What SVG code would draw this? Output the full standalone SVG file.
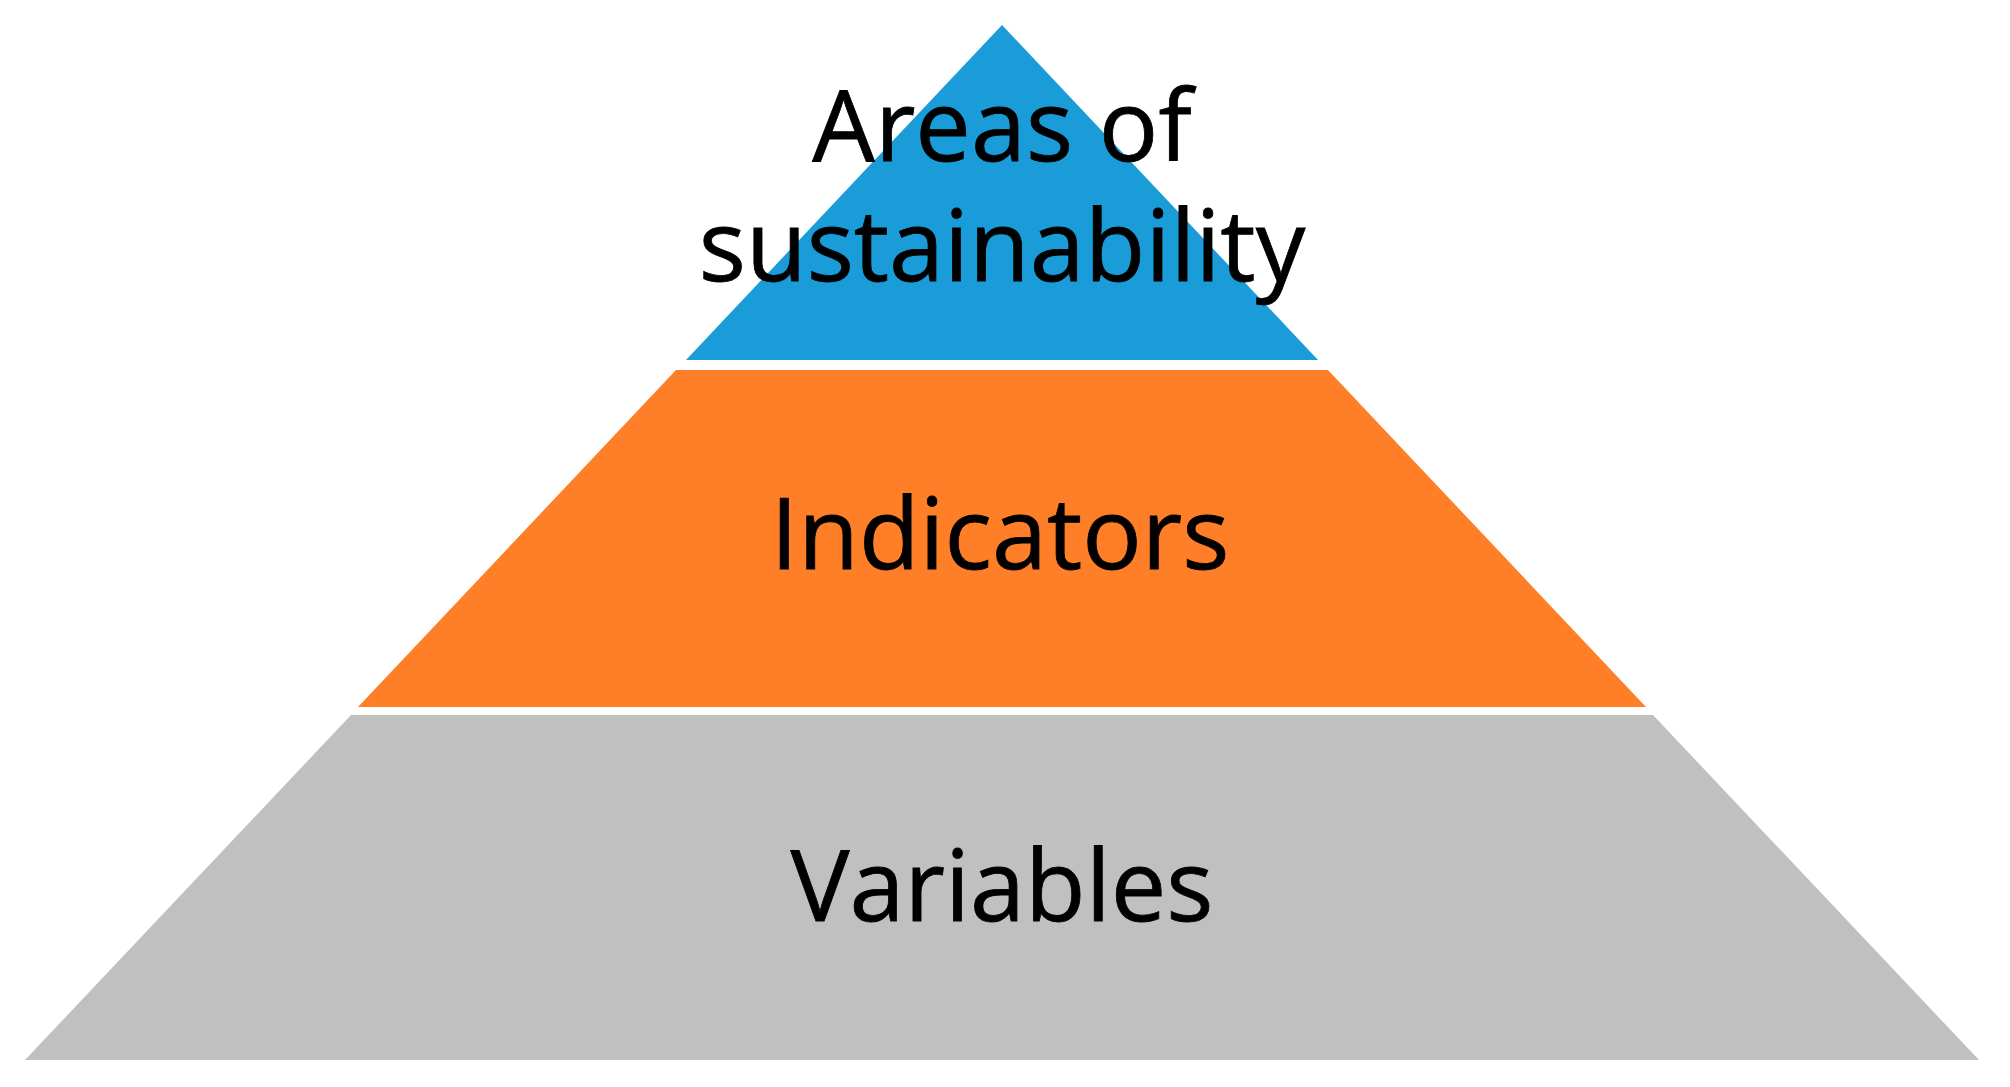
<svg xmlns="http://www.w3.org/2000/svg" width="2010" height="1087" viewBox="0 0 2010 1087">
<style>
.lbl{font-family:"Open Sans","Noto Sans","Liberation Sans",sans-serif;font-size:99px;fill:#000;stroke:#000;stroke-width:0.8px;text-anchor:middle}
</style>
<rect width="2010" height="1087" fill="#fff"/>
<g id="top">
<polygon points="1002,25 1318,360 686,360" fill="#1a9cd8"/>
<text class="lbl" x="1002" y="161">Areas of</text>
<text class="lbl" x="1002" y="281">sustainability</text>
</g>
<g id="middle">
<polygon points="676,370 1328,370 1646,707 358,707" fill="#fe7f27"/>
<text class="lbl" x="1000" y="569">Indicators</text>
</g>
<g id="bottom">
<polygon points="351,715 1653,715 1979,1060 25,1060" fill="#c0c0c0"/>
<text class="lbl" x="1002" y="921">Variables</text>
</g>
<g id="connectors"/>
</svg>
